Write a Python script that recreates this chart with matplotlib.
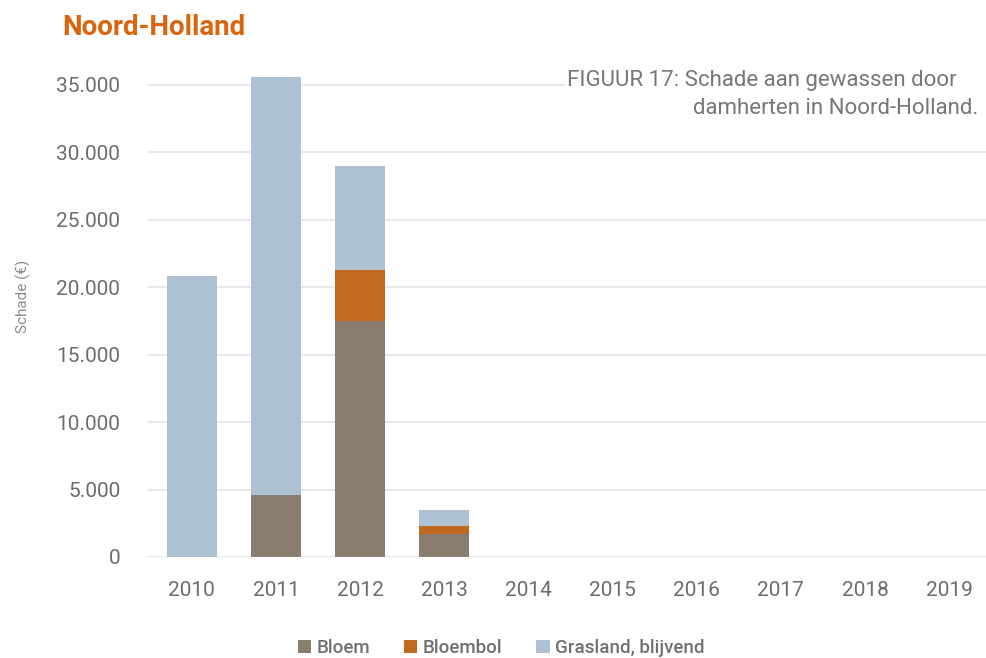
import matplotlib
matplotlib.use('Agg')
import matplotlib.pyplot as plt
import numpy as np
from matplotlib.ticker import FuncFormatter
from matplotlib.patches import Rectangle

##################################################################
# DATA
##################################################################
years = ['2010', '2011', '2012', '2013', '2014', '2015', '2016', '2017', '2018', '2019']
bloem = [0, 4600, 17500, 1700, 0, 0, 0, 0, 0, 0]
bloembol = [0, 0, 3800, 600, 0, 0, 0, 0, 0, 0]
grasland = [20800, 31000, 7700, 1200, 0, 0, 0, 0, 0, 0]

series_names = ['Bloem', 'Bloembol', 'Grasland, blijvend']
colors = ['#8a7d6f', '#c0691f', '#aec1d2']

##################################################################
# PLOT
##################################################################
plt.rcParams['font.family'] = ['Roboto', 'DejaVu Sans']

fig = plt.figure(figsize=(9.87, 6.58), dpi=100)
ax = fig.add_axes([0.15, 0.1535, 0.85, 0.738])

x = np.arange(len(years))
b1 = np.array(bloem)
b2 = np.array(bloembol)
b3 = np.array(grasland)

ax.bar(x, b1, width=0.6, color=colors[0], label=series_names[0], zorder=3)
ax.bar(x, b2, width=0.6, bottom=b1, color=colors[1], label=series_names[1], zorder=3)
ax.bar(x, b3, width=0.6, bottom=b1 + b2, color=colors[2], label=series_names[2], zorder=3)

ax.set_xlim(-0.52, 9.45)
ax.set_ylim(0, 36000)
ax.set_yticks(np.arange(0, 35001, 5000))
ax.yaxis.set_major_formatter(FuncFormatter(lambda v, p: '{:,.0f}'.format(v).replace(',', '.')))
ax.set_xticks(x)
ax.set_xticklabels(years)

ax.grid(axis='y', color='#e3e3e3', linewidth=1.2, zorder=0)
for s in ax.spines.values():
    s.set_visible(False)
ax.tick_params(axis='both', length=0, colors='#6c6c6c', labelsize=15)
ax.tick_params(axis='y', pad=20)
ax.tick_params(axis='x', pad=17)

fig.text(0.024, 0.55, 'Schade (€)', color='#8a8a8a', fontsize=11,
         rotation=90, va='center', ha='center')

fig.text(0.063, 0.958, 'Noord-Holland', color='#d9650f', fontsize=20,
         fontweight='bold', va='center', ha='left')

# white block hiding the top gridline behind the caption
fig.patches.append(Rectangle((0.572, 0.855), 0.43, 0.04, transform=fig.transFigure,
                             facecolor='white', edgecolor='none', zorder=2))
fig.text(0.574, 0.877, 'FIGUUR 17: Schade aan gewassen door', color='#777777',
         fontsize=16, va='center', ha='left', zorder=3)
fig.text(0.991, 0.835, 'damherten in Noord-Holland.', color='#777777',
         fontsize=16, va='center', ha='right', zorder=3)

leg = fig.legend(loc='center', bbox_to_anchor=(0.508, 0.015), ncol=3, frameon=False,
                 handlelength=0.7, handleheight=0.7, handletextpad=0.3,
                 columnspacing=1.8, fontsize=13.5)
for t in leg.get_texts():
    t.set_color('#707070')
    t.set_fontweight('medium')

fig.savefig('out.png', dpi=100)
